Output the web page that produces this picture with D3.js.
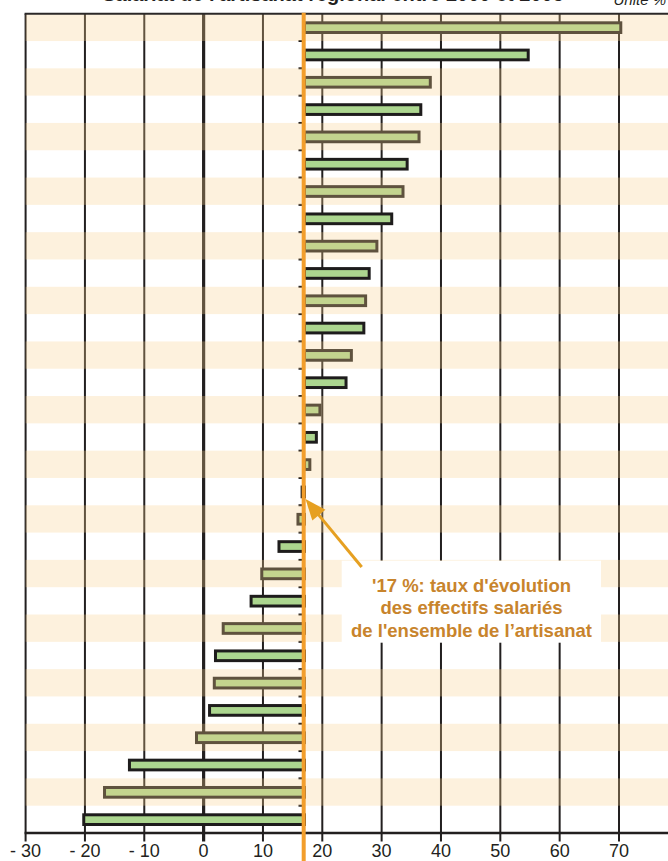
<!DOCTYPE html>
<html>
<head>
<meta charset="utf-8">
<script src="https://cdn.jsdelivr.net/npm/d3@7"></script>
<style>
  html, body { margin: 0; padding: 0; background: #ffffff; }
  svg { display: block; }
  text { font-family: "Liberation Sans", Arial, Helvetica, sans-serif; }
</style>
</head>
<body>
<script>
// ---------------- DATA ----------------
const categories = [
  "Cat. 01", "Cat. 02", "Cat. 03", "Cat. 04", "Cat. 05", "Cat. 06",
  "Cat. 07", "Cat. 08", "Cat. 09", "Cat. 10", "Cat. 11", "Cat. 12",
  "Cat. 13", "Cat. 14", "Cat. 15", "Cat. 16", "Cat. 17", "Cat. 18",
  "Cat. 19", "Cat. 20", "Cat. 21", "Cat. 22", "Cat. 23", "Cat. 24",
  "Cat. 25", "Cat. 26", "Cat. 27", "Cat. 28", "Cat. 29", "Cat. 30"
];
const values = [
  70.3, 54.7, 38.2, 36.6, 36.3, 34.3, 33.6, 31.7, 29.2, 27.9,
  27.3, 27.0, 24.9, 24.0, 19.6, 19.0, 17.9, 16.6, 15.9, 12.7,
  9.8, 8.0, 3.3, 2.0, 1.8, 1.0, -1.2, -12.5, -16.7, -20.2
];
const referenceValue = 17;
const xTicks = [-30, -20, -10, 0, 10, 20, 30, 40, 50, 60, 70];
const xTickLabels = ["- 30", "- 20", "- 10", "0", "10", "20", "30", "40", "50", "60", "70"];
const titleText = "Salariat de l'artisanat régional entre 2000 et 2005";
const unitText = "Unité %";
const noteLines = ["'17 %: taux d'évolution", "des effectifs salariés", "de l'ensemble de l’artisanat"];

// ---------------- LAYOUT ----------------
const W = 668, H = 861;
const plotLeft = 25.6, plotRight = 668, plotTop = 13.7, plotBottom = 833;

const svg = d3.select("body").append("svg").attr("width", W).attr("height", H);
svg.append("rect").attr("width", W).attr("height", H).attr("fill", "#ffffff");

const x = d3.scaleLinear().domain([-30, 70]).range([plotLeft, 619]);
const y = d3.scaleBand().domain(categories).range([plotTop, plotBottom]).padding(0);
const barH = y.bandwidth() * 0.355;
const dark = "#221f1f";

// gridlines (incl. ticks below axis)
svg.append("g").selectAll("line").data(xTicks).join("line")
  .attr("x1", d => x(d)).attr("x2", d => x(d))
  .attr("y1", plotTop).attr("y2", plotBottom + 8.5)
  .attr("stroke", dark)
  .attr("stroke-width", d => d === 0 ? 3.2 : 2);

// y-axis ticks at reference line
svg.append("g").selectAll("line").data(categories).join("line")
  .attr("x1", x(referenceValue) - 6).attr("x2", x(referenceValue))
  .attr("y1", d => y(d) + y.bandwidth()).attr("y2", d => y(d) + y.bandwidth())
  .attr("stroke", dark).attr("stroke-width", 2);

// bars, from the reference value
svg.append("g").selectAll("rect").data(values).join("rect")
  .attr("x", d => x(Math.min(d, referenceValue)))
  .attr("width", d => Math.abs(x(d) - x(referenceValue)))
  .attr("y", (d, i) => y(categories[i]) + (y.bandwidth() - barH) / 2 + 0.3)
  .attr("height", barH)
  .attr("fill", "#acd68f")
  .attr("stroke", "#1e1c1c")
  .attr("stroke-width", 3);

// cream translucent bands on alternate rows (drawn over grid and bars)
svg.append("g").selectAll("rect").data(categories.filter((d, i) => i % 2 === 0)).join("rect")
  .attr("x", plotLeft).attr("width", plotRight - plotLeft)
  .attr("y", d => y(d)).attr("height", y.bandwidth())
  .attr("fill", "rgb(248,209,144)").attr("fill-opacity", 0.3);

// top border and bottom axis
svg.append("line").attr("x1", plotLeft - 1).attr("x2", plotRight)
  .attr("y1", plotTop).attr("y2", plotTop).attr("stroke", "#2b2828").attr("stroke-width", 2);
svg.append("line").attr("x1", plotLeft - 1).attr("x2", plotRight)
  .attr("y1", plotBottom).attr("y2", plotBottom).attr("stroke", dark).attr("stroke-width", 2.5);

// x tick labels
svg.append("g").selectAll("text").data(xTicks).join("text")
  .attr("x", d => x(d)).attr("y", 857)
  .attr("text-anchor", "middle")
  .attr("font-size", 18).attr("fill", "#231f20")
  .text((d, i) => xTickLabels[i]);

// reference (orange) line
svg.append("line")
  .attr("x1", x(referenceValue) - 0.8).attr("x2", x(referenceValue) - 0.8)
  .attr("y1", plotTop - 1).attr("y2", H)
  .attr("stroke", "#f29e2c").attr("stroke-width", 4);

// title (cropped at top, as in the source) and unit
svg.append("text").attr("x", 333).attr("y", 0.5)
  .attr("text-anchor", "middle").attr("font-size", 20).attr("font-weight", "bold")
  .attr("fill", "#231f20").text(titleText);
svg.append("text").attr("x", 666).attr("y", 5)
  .attr("text-anchor", "end").attr("font-size", 15).attr("font-style", "italic")
  .attr("fill", "#231f20").text(unitText);

// annotation box
const note = svg.append("g");
note.append("rect").attr("x", 341.7).attr("y", 560.7)
  .attr("width", 601 - 341.7).attr("height", 642.7 - 560.7).attr("fill", "#ffffff");
note.selectAll("text").data(noteLines).join("text")
  .attr("x", 471.5).attr("y", (d, i) => 591.5 + i * 22.6)
  .attr("text-anchor", "middle").attr("font-size", 18.5).attr("font-weight", "bold")
  .attr("fill", "#c8842c").text(d => d);

// arrow
const tip = [x(referenceValue) + 1, 499];
const tail = [361.7, 567];
const dx = tail[0] - tip[0], dy = tail[1] - tip[1];
const len = Math.hypot(dx, dy);
const ux = dx / len, uy = dy / len;
const headLen = 21, headHalf = 8.5;
const bx = tip[0] + ux * headLen, by = tip[1] + uy * headLen;
const arrowColor = "#e6a021";
svg.append("line").attr("x1", bx - ux * 2).attr("y1", by - uy * 2)
  .attr("x2", tail[0]).attr("y2", tail[1])
  .attr("stroke", arrowColor).attr("stroke-width", 3);
svg.append("path")
  .attr("d", d3.line()([
    tip,
    [bx - uy * headHalf, by + ux * headHalf],
    [bx + uy * headHalf, by - ux * headHalf]
  ]) + "Z")
  .attr("fill", arrowColor);
</script>
</body>
</html>
